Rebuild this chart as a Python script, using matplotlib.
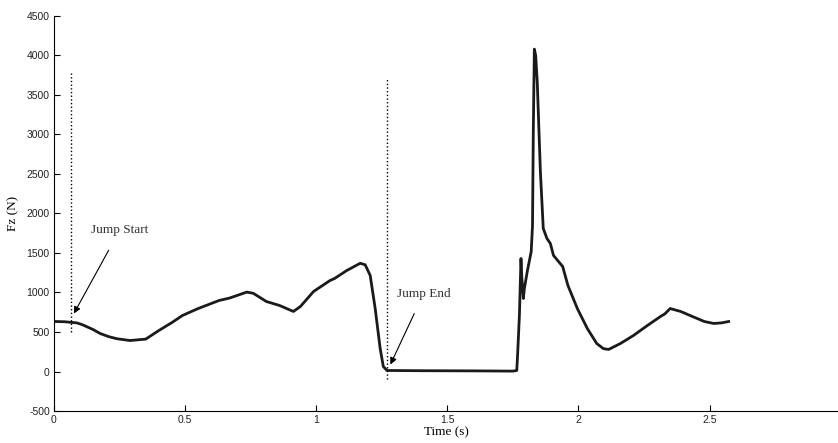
import matplotlib
matplotlib.use("Agg")
import matplotlib.pyplot as plt
import numpy as np

plt.rcParams["axes.unicode_minus"] = False

# vertical ground reaction force
t = [0.0, 0.04, 0.088, 0.11, 0.15, 0.176, 0.21, 0.24, 0.29, 0.35, 0.40, 0.45, 0.49, 0.545,
     0.57, 0.63, 0.67, 0.705, 0.735, 0.76, 0.81, 0.86, 0.913, 0.94, 0.99, 1.053, 1.07,
     1.117, 1.168, 1.187, 1.206, 1.225, 1.244, 1.256, 1.27, 1.40, 1.60, 1.75, 1.765,
     1.768, 1.775, 1.781, 1.784, 1.79, 1.794, 1.805, 1.82, 1.825, 1.828, 1.832, 1.837,
     1.843, 1.855, 1.866, 1.88, 1.893, 1.905, 1.94, 1.96, 1.996, 2.034, 2.07, 2.095,
     2.115, 2.16, 2.21, 2.263, 2.313, 2.33, 2.35, 2.39, 2.435, 2.48, 2.516, 2.545, 2.573]
fz = [633, 630, 615, 590, 530, 481, 440, 415, 392, 410, 519, 620, 709, 790,
      823, 899, 930, 970, 1005, 990, 886, 836, 760, 823, 1013, 1152, 1177,
      1279, 1370, 1350, 1215, 797, 291, 63, 13, 10, 8, 5, 13,
      203, 709, 1430, 1200, 924, 1051, 1266, 1519, 1848, 3038, 4080, 4000,
      3671, 2532, 1810, 1684, 1620, 1469, 1329, 1089, 797, 544, 354, 290,
      279, 354, 456, 582, 696, 730, 797, 760, 696, 633, 608, 615, 633]

# event markers
start_t = 0.065
start_range = [500, 3780]
end_t = 1.27
end_range = [-90, 3720]

xticks = [0, 0.5, 1, 1.5, 2, 2.5]
yticks = list(range(-500, 4501, 500))

fig = plt.figure(figsize=(8.38, 4.43), dpi=100)
ax = fig.add_axes([0.0644, 0.0722, 0.9356, 0.8918])

ax.plot(t, fz, color="#1a1a1a", lw=2.0, solid_joinstyle="round")
ax.plot([start_t, start_t], start_range, ls=":", color="k", lw=1.0)
ax.plot([end_t, end_t], end_range, ls=":", color="k", lw=1.0)

ax.annotate("Jump Start", xy=(0.076, 734), xytext=(0.25, 1785),
            ha="center", va="center", fontsize=9.5, family="Liberation Serif",
            color="#333333",
            arrowprops=dict(arrowstyle="-|>", color="k", lw=0.8,
                            shrinkA=9, shrinkB=0, mutation_scale=10))
ax.annotate("Jump End", xy=(1.283, 89), xytext=(1.41, 987),
            ha="center", va="center", fontsize=9.5, family="Liberation Serif",
            color="#333333",
            arrowprops=dict(arrowstyle="-|>", color="k", lw=0.8,
                            shrinkA=9, shrinkB=0, mutation_scale=10))

ax.set_xlim(0, 2.99)
ax.set_ylim(-500, 4500)
ax.set_xticks(xticks)
ax.set_xticklabels(["0", "0.5", "1", "1.5", "2", "2.5"])
ax.set_yticks(yticks)
ax.tick_params(direction="in", length=4, width=0.8, labelsize=7.5, pad=3)
for lab in ax.get_xticklabels() + ax.get_yticklabels():
    lab.set_family("Liberation Sans")
    lab.set_color("#222222")

ax.spines["top"].set_visible(False)
ax.spines["right"].set_visible(False)
ax.spines["left"].set_linewidth(0.8)
ax.spines["bottom"].set_linewidth(0.8)

ax.set_xlabel("Time (s)", fontsize=9.5, family="Liberation Serif", labelpad=1)
ax.set_ylabel("Fz (N)", fontsize=9.5, family="Liberation Serif", labelpad=5)

fig.savefig("out.png", dpi=100)
